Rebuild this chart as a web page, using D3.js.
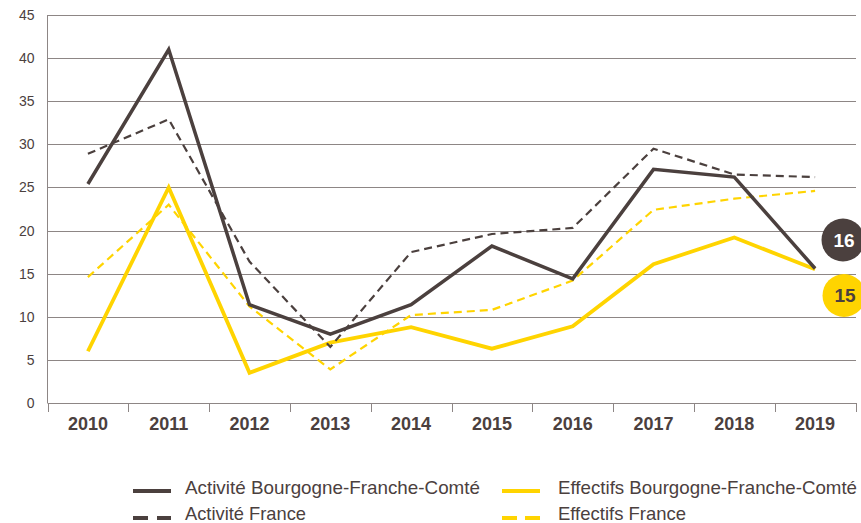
<!DOCTYPE html>
<html><head><meta charset="utf-8">
<script src="https://cdn.jsdelivr.net/npm/d3@7"></script>
<style>body{margin:0;background:#fff}svg{display:block}</style>
</head><body><svg id="c" width="861" height="523"></svg>
<script>
const years = ["2010","2011","2012","2013","2014","2015","2016","2017","2018","2019"];
const activiteBFC = [25.4, 41.0, 11.4, 8.0, 11.4, 18.2, 14.4, 27.1, 26.2, 15.6];
const activiteFrance = [28.9, 32.9, 16.4, 6.5, 17.5, 19.6, 20.3, 29.5, 26.5, 26.2];
const effectifsBFC = [6.0, 25.0, 3.5, 7.0, 8.8, 6.3, 8.9, 16.1, 19.2, 15.5];
const effectifsFrance = [14.6, 23.0, 11.2, 3.9, 10.2, 10.8, 14.2, 22.4, 23.7, 24.6];
const yTicks = [0, 5, 10, 15, 20, 25, 30, 35, 40, 45];
const seriesNames = ["Activité Bourgogne-Franche-Comté", "Activité France", "Effectifs Bourgogne-Franche-Comté", "Effectifs France"];
const badgeLabels = ["16", "15"];

const DARK = "#4b403e", YEL = "#ffd400", GRID = "#8d8685";
const FONT = "Liberation Sans, Arial, sans-serif";
const svg = d3.select("#c");
const x = d3.scaleBand().domain(years).range([47.5, 855.5]);
const y = d3.scaleLinear().domain([0, 45]).range([403, 15]);

// gridlines
svg.append("g").selectAll("line").data(yTicks).join("line")
  .attr("x1", 47.5).attr("x2", 856).attr("y1", d => Math.round(y(d)) + 0.5).attr("y2", d => Math.round(y(d)) + 0.5)
  .attr("stroke", GRID).attr("stroke-width", 1);
svg.append("line").attr("x1", 47.5).attr("x2", 47.5).attr("y1", y(45)).attr("y2", y(0)).attr("stroke", GRID);

// y labels
svg.append("g").selectAll("text").data(yTicks).join("text")
  .attr("x", 34.5).attr("y", d => y(d) + 5).attr("text-anchor", "end")
  .attr("font-family", FONT).attr("font-size", 14).attr("fill", DARK)
  .text(d => d);

// x axis ticks
const bounds = years.map(d => x(d)).concat([x.range()[1]]);
svg.append("g").selectAll("line").data(bounds).join("line")
  .attr("x1", d => Math.round(d) + 0.5).attr("x2", d => Math.round(d) + 0.5).attr("y1", 403).attr("y2", 412)
  .attr("stroke", GRID);
svg.append("g").selectAll("text").data(years).join("text")
  .attr("x", d => x(d) + x.bandwidth() / 2).attr("y", 430).attr("text-anchor", "middle")
  .attr("font-family", FONT).attr("font-weight", "bold").attr("font-size", 18).attr("fill", DARK)
  .text(d => d);

const line = d3.line().x((d, i) => x(years[i]) + x.bandwidth() / 2).y(d => y(d));
const specs = [
  {data: effectifsFrance, color: YEL, w: 2.2, dash: "8,5"},
  {data: effectifsBFC, color: YEL, w: 3.8, dash: null},
  {data: activiteFrance, color: DARK, w: 2.2, dash: "8,5"},
  {data: activiteBFC, color: DARK, w: 3.5, dash: null},
];
specs.forEach(s => {
  svg.append("path").attr("d", line(s.data)).attr("fill", "none")
    .attr("stroke", s.color).attr("stroke-width", s.w).attr("stroke-dasharray", s.dash)
    .attr("stroke-linejoin", "miter");
});

// badges
const badges = [{t: badgeLabels[0], cx: 843, cy: 240, fill: DARK, tc: "#fff"},
                {t: badgeLabels[1], cx: 844, cy: 295.5, fill: YEL, tc: DARK}];
badges.forEach(b => {
  svg.append("circle").attr("cx", b.cx).attr("cy", b.cy).attr("r", 21.5).attr("fill", b.fill);
  svg.append("text").attr("x", b.cx + 1).attr("y", b.cy + 6.5).attr("text-anchor", "middle")
    .attr("font-family", FONT).attr("font-weight", "bold").attr("font-size", 19)
    .attr("fill", b.tc).text(b.t);
});

// legend
const leg = [
  {name: seriesNames[0], color: DARK, dash: null, lx: 133, ly: 491, tx: 185, ty: 494, tl: 295},
  {name: seriesNames[1], color: DARK, dash: "15,9", lx: 133, ly: 518, tx: 185, ty: 519.5, tl: 121},
  {name: seriesNames[2], color: YEL, dash: null, lx: 502, ly: 491, tx: 558, ty: 494, tl: 299},
  {name: seriesNames[3], color: YEL, dash: "15,8", lx: 502, ly: 518, tx: 558, ty: 519.5, tl: 128},
];
leg.forEach(l => {
  svg.append("line").attr("x1", l.lx).attr("x2", l.lx + 38).attr("y1", l.ly).attr("y2", l.ly)
    .attr("stroke", l.color).attr("stroke-width", 4).attr("stroke-dasharray", l.dash);
  svg.append("text").attr("x", l.tx).attr("y", l.ty)
    .attr("font-family", FONT).attr("font-size", 19).attr("fill", DARK)
    .attr("textLength", l.tl).attr("lengthAdjust", "spacingAndGlyphs").text(l.name);
});
</script></body></html>
